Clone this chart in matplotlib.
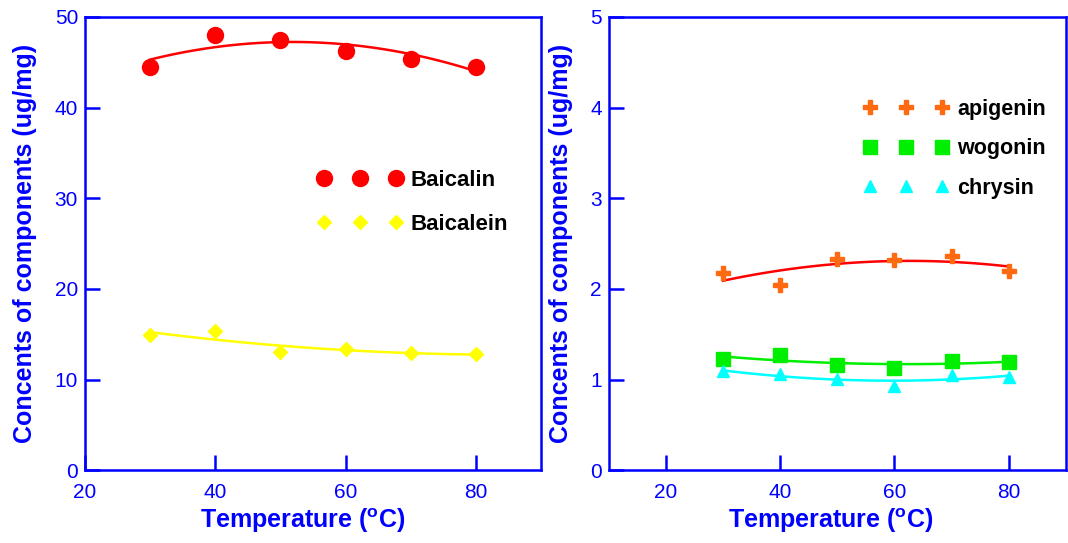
import numpy as np
import matplotlib
matplotlib.use('Agg')
import matplotlib.pyplot as plt

plt.rcParams['font.family'] = 'Liberation Sans'
plt.rcParams['mathtext.fontset'] = 'custom'
plt.rcParams['mathtext.rm'] = 'Liberation Sans'
plt.rcParams['mathtext.bf'] = 'Liberation Sans:bold'

# Data
temps = [30, 40, 50, 60, 70, 80]
baicalin = [44.5, 48.0, 47.4, 46.2, 45.4, 44.5]
baicalein = [14.9, 15.3, 13.0, 13.4, 12.9, 12.8]
apigenin = [2.17, 2.04, 2.33, 2.32, 2.36, 2.20]
wogonin = [1.23, 1.27, 1.16, 1.13, 1.21, 1.19]
chrysin = [1.09, 1.06, 1.01, 0.93, 1.05, 1.03]

blue = '#0000FF'
ylab = 'Concents of components (ug/mg)'
xlab = r'Temperature ($\mathbf{^{o}}$C)'

fig = plt.figure(figsize=(10.68, 5.43), dpi=100)
ax1 = fig.add_axes([0.0796, 0.134, 0.427, 0.835])
ax2 = fig.add_axes([0.570, 0.134, 0.428, 0.835])


def fit_line(ax, x, y, color):
    c = np.polyfit(x, y, 2)
    xs = np.linspace(min(x), max(x), 100)
    ax.plot(xs, np.polyval(c, xs), color=color, lw=1.8, zorder=2)


def style(ax, xlim, ylim, xticks, yticks, xlab_x):
    ax.set_xlim(*xlim)
    ax.set_ylim(*ylim)
    ax.set_xticks(xticks)
    ax.set_yticks(yticks)
    for s in ax.spines.values():
        s.set_color(blue)
        s.set_linewidth(1.8)
    ax.tick_params(direction='in', length=11, width=1.8, color=blue,
                   labelcolor=blue, labelsize=15,
                   top=False, right=False)
    ax.tick_params(axis='x', pad=9.5)
    ax.tick_params(axis='y', pad=5)
    ax.set_xlabel(xlab, color=blue, fontsize=18, fontweight='bold', labelpad=3)
    ax.set_ylabel(ylab, color=blue, fontsize=18, fontweight='bold', labelpad=12.5)
    ax.xaxis.label.set_x(xlab_x)


# Left panel
ax1.plot(temps, baicalin, 'o', color='#FF0000', ms=11.5, ls='none',
         label='Baicalin', zorder=3)
ax1.plot(temps, baicalein, 'D', color='#FFFF00', ms=7.5, ls='none',
         label='Baicalein', zorder=3)
fit_line(ax1, temps, baicalin, '#FF0000')
fit_line(ax1, temps, baicalein, '#FFFF00')
style(ax1, (20, 90), (0, 50), [20, 40, 60, 80], [0, 10, 20, 30, 40, 50], 0.477)
ax1.legend(loc='upper left', bbox_to_anchor=(0.485, 0.687),
           numpoints=3, handlelength=3.84, handletextpad=0.37,
           labelspacing=1.05, frameon=False, borderpad=0,
           prop={'weight': 'bold', 'size': 16})

# Right panel
ax2.plot(temps, apigenin, 'P', color='#FF6A10', ms=10, ls='none',
         label='apigenin', zorder=3)
ax2.plot(temps, wogonin, 's', color='#00EE00', ms=10, ls='none',
         label='wogonin', zorder=3)
ax2.plot(temps, chrysin, '^', color='#00FFFF', ms=9, ls='none',
         label='chrysin', zorder=3)
fit_line(ax2, temps, apigenin, '#FF0000')
fit_line(ax2, temps, wogonin, '#00EE00')
fit_line(ax2, temps, chrysin, '#00FFFF')
style(ax2, (10, 90), (0, 5), [20, 40, 60, 80], [0, 1, 2, 3, 4, 5], 0.485)
ax2.legend(loc='upper left', bbox_to_anchor=(0.534, 0.843),
           numpoints=3, handlelength=3.95, handletextpad=0.4,
           labelspacing=0.86, frameon=False, borderpad=0,
           prop={'weight': 'bold', 'size': 15.5})

fig.savefig('out.png', dpi=100)
